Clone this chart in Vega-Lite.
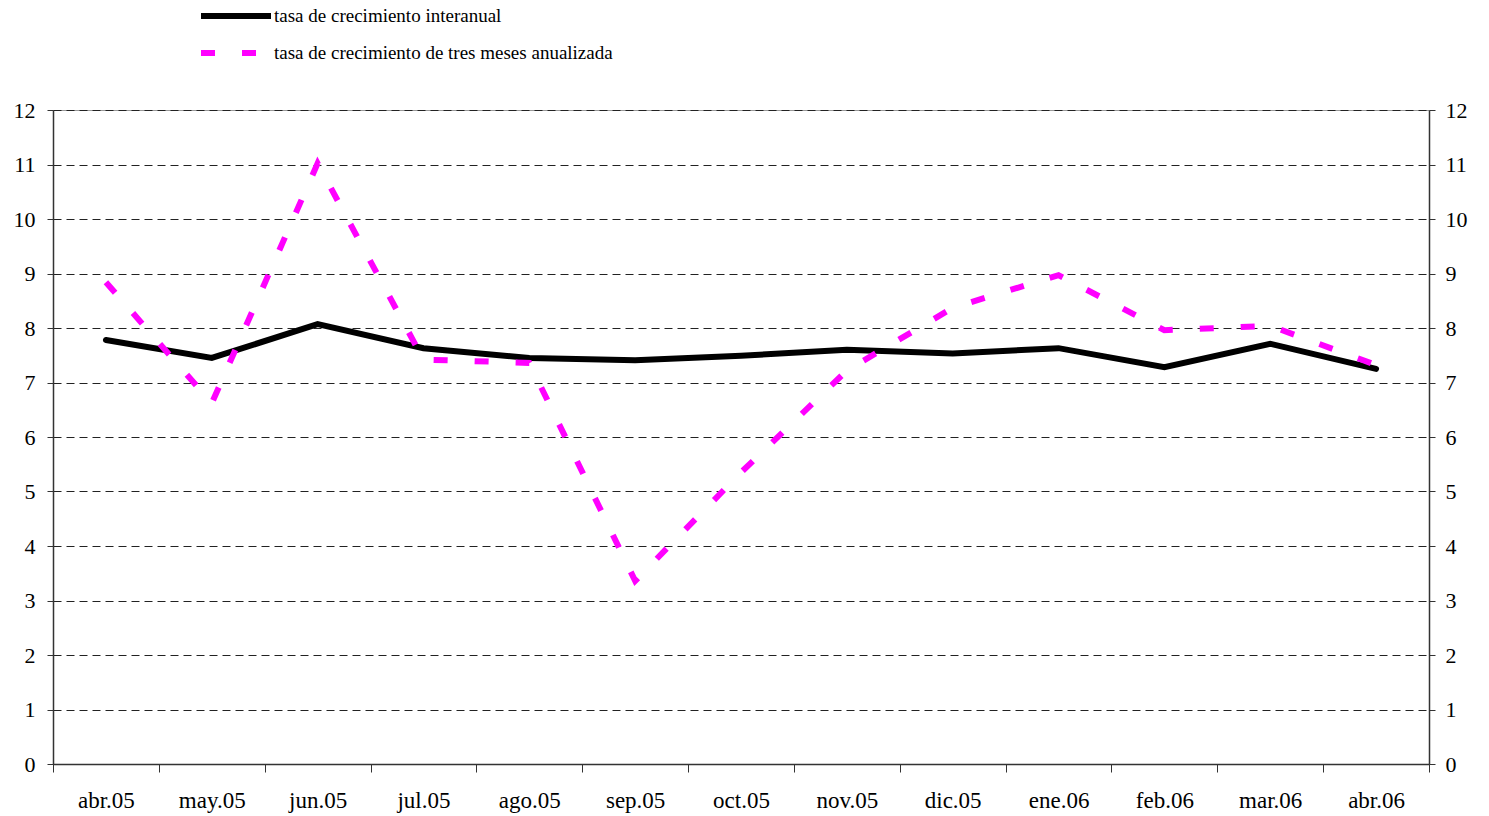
{
  "$schema": "https://vega.github.io/schema/vega-lite/v6.json",
  "width": 1376,
  "height": 654,
  "autosize": {"type": "none"},
  "padding": {"left": 53, "top": 110, "right": 60, "bottom": 52},
  "background": "white",
  "config": {
    "view": {"stroke": "#999999", "strokeWidth": 1},
    "font": "Liberation Serif",
    "axis": {"labelFont": "Liberation Serif", "labelColor": "black", "labelFontSize": 22},
    "legend": {"labelFont": "Liberation Serif", "labelLimit": 0}
  },
  "data": {
    "values": [
      {"mes": "abr.05", "serie": "tasa de crecimiento interanual", "valor": 7.78},
      {"mes": "may.05", "serie": "tasa de crecimiento interanual", "valor": 7.45},
      {"mes": "jun.05", "serie": "tasa de crecimiento interanual", "valor": 8.07},
      {"mes": "jul.05", "serie": "tasa de crecimiento interanual", "valor": 7.63},
      {"mes": "ago.05", "serie": "tasa de crecimiento interanual", "valor": 7.45},
      {"mes": "sep.05", "serie": "tasa de crecimiento interanual", "valor": 7.41},
      {"mes": "oct.05", "serie": "tasa de crecimiento interanual", "valor": 7.49},
      {"mes": "nov.05", "serie": "tasa de crecimiento interanual", "valor": 7.6},
      {"mes": "dic.05", "serie": "tasa de crecimiento interanual", "valor": 7.53},
      {"mes": "ene.06", "serie": "tasa de crecimiento interanual", "valor": 7.63},
      {"mes": "feb.06", "serie": "tasa de crecimiento interanual", "valor": 7.28},
      {"mes": "mar.06", "serie": "tasa de crecimiento interanual", "valor": 7.71},
      {"mes": "abr.06", "serie": "tasa de crecimiento interanual", "valor": 7.25},
      {"mes": "abr.05", "serie": "tasa de crecimiento de tres meses anualizada", "valor": 8.84},
      {"mes": "may.05", "serie": "tasa de crecimiento de tres meses anualizada", "valor": 6.62},
      {"mes": "jun.05", "serie": "tasa de crecimiento de tres meses anualizada", "valor": 11.02},
      {"mes": "jul.05", "serie": "tasa de crecimiento de tres meses anualizada", "valor": 7.42},
      {"mes": "ago.05", "serie": "tasa de crecimiento de tres meses anualizada", "valor": 7.36},
      {"mes": "sep.05", "serie": "tasa de crecimiento de tres meses anualizada", "valor": 3.36},
      {"mes": "oct.05", "serie": "tasa de crecimiento de tres meses anualizada", "valor": 5.35},
      {"mes": "nov.05", "serie": "tasa de crecimiento de tres meses anualizada", "valor": 7.22},
      {"mes": "dic.05", "serie": "tasa de crecimiento de tres meses anualizada", "valor": 8.37},
      {"mes": "ene.06", "serie": "tasa de crecimiento de tres meses anualizada", "valor": 8.97},
      {"mes": "feb.06", "serie": "tasa de crecimiento de tres meses anualizada", "valor": 7.96},
      {"mes": "mar.06", "serie": "tasa de crecimiento de tres meses anualizada", "valor": 8.04},
      {"mes": "abr.06", "serie": "tasa de crecimiento de tres meses anualizada", "valor": 7.32}
    ]
  },
  "encoding": {
    "x": {
      "field": "mes",
      "type": "nominal",
      "sort": null,
      "bandPosition": 0.5,
      "scale": {"type": "band", "paddingInner": 0, "paddingOuter": 0},
      "axis": {
        "title": null,
        "labelAngle": 0,
        "tickBand": "extent",
        "domainColor": "#333333",
        "domainWidth": 1.5,
        "tickColor": "#333333",
        "tickSize": 8,
        "labelPadding": 17,
        "labelFont": "Liberation Serif",
        "labelFontSize": 23,
        "labelColor": "black",
        "grid": false
      }
    }
  },
  "layer": [
    {
      "transform": [{"filter": "datum.serie === 'tasa de crecimiento interanual'"}],
      "mark": {"type": "line", "strokeWidth": 6, "strokeCap": "round", "strokeJoin": "miter"},
      "encoding": {
        "y": {
          "field": "valor",
          "type": "quantitative",
          "scale": {"domain": [0, 12], "nice": false, "zero": true},
          "axis": {
            "orient": "left",
            "title": null,
            "values": [0, 1, 2, 3, 4, 5, 6, 7, 8, 9, 10, 11, 12],
            "grid": true,
            "gridDash": [8, 5],
            "gridColor": "#222222",
            "gridWidth": 1,
            "domainColor": "#333333",
            "domainWidth": 1.5,
            "tickColor": "#333333",
            "tickSize": 6,
            "labelPadding": 12,
            "labelFont": "Liberation Serif",
            "labelFontSize": 22,
            "labelColor": "black"
          }
        },
        "color": {
          "field": "serie",
          "type": "nominal",
          "scale": {"domain": ["tasa de crecimiento interanual"], "range": ["#000000"]},
          "legend": {
            "title": null,
            "orient": "none",
            "legendX": 145,
            "legendY": -132,
            "symbolType": "stroke",
            "symbolSize": 4900,
            "symbolStrokeWidth": 6,
            "labelFont": "Liberation Serif",
            "labelFontSize": 19,
            "labelLimit": 0,
            "labelColor": "black",
            "labelOffset": 0
          }
        }
      }
    },
    {
      "transform": [{"filter": "datum.serie === 'tasa de crecimiento de tres meses anualizada'"}],
      "mark": {"type": "line", "strokeWidth": 6, "strokeDash": [14, 27], "strokeCap": "butt"},
      "encoding": {
        "y": {
          "field": "valor",
          "type": "quantitative",
          "scale": {"domain": [0, 12], "nice": false, "zero": true},
          "axis": {
            "orient": "right",
            "title": null,
            "values": [0, 1, 2, 3, 4, 5, 6, 7, 8, 9, 10, 11, 12],
            "grid": false,
            "domainColor": "#333333",
            "domainWidth": 1.5,
            "tickColor": "#333333",
            "tickSize": 6,
            "labelPadding": 10,
            "labelFont": "Liberation Serif",
            "labelFontSize": 22,
            "labelColor": "black"
          }
        },
        "color": {
          "field": "serie",
          "type": "nominal",
          "scale": {"domain": ["tasa de crecimiento de tres meses anualizada"], "range": ["#FF00FF"]},
          "legend": {
            "title": null,
            "orient": "none",
            "legendX": 145,
            "legendY": -95,
            "symbolType": "stroke",
            "symbolSize": 4900,
            "symbolStrokeWidth": 6,
            "symbolDash": [14, 27],
            "labelFont": "Liberation Serif",
            "labelFontSize": 19,
            "labelLimit": 0,
            "labelColor": "black",
            "labelOffset": 0
          }
        }
      }
    }
  ],
  "resolve": {"scale": {"y": "independent", "color": "independent"}, "legend": {"color": "independent"}}
}
